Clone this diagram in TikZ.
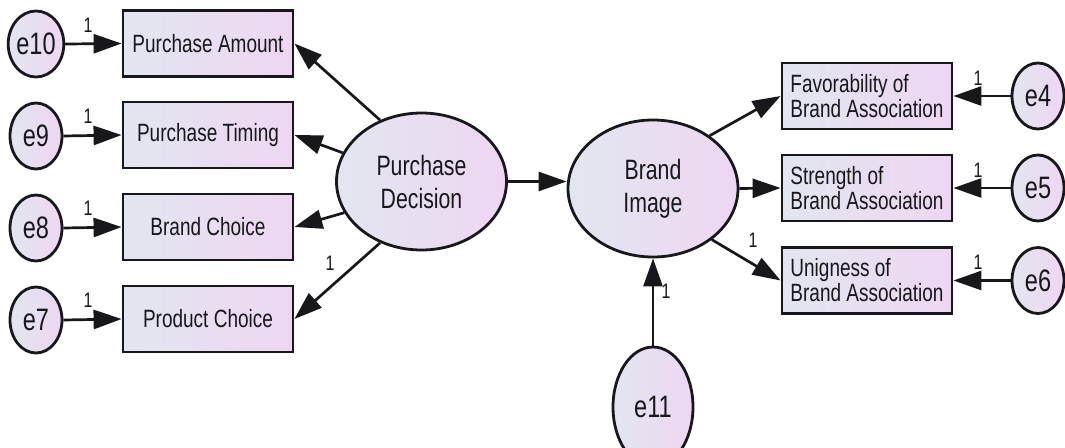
\documentclass[tikz,border=0pt]{standalone}
\usepackage{fontspec}
\setmainfont{Liberation Sans}[FakeStretch=0.76]
\usetikzlibrary{shapes.geometric,arrows.meta}
\definecolor{fillL}{RGB}{226,230,240}
\definecolor{fillR}{RGB}{238,214,242}
\definecolor{ink}{RGB}{24,24,28}
\tikzset{
  obsbox/.style={draw=ink, line width=2.8pt, left color=fillL, right color=fillR,
    minimum width=170pt, minimum height=66pt, inner sep=0pt,
    font=\fontsize{25}{25}\selectfont, text=ink},
  obsleft/.style={obsbox, align=left},
  latent/.style={draw=ink, line width=2.8pt, ellipse, left color=fillL, right color=fillR,
    minimum width=170pt, minimum height=137pt, inner sep=0pt, align=center,
    font=\fontsize{28}{33}\selectfont, text=ink},
  errvar/.style={draw=ink, line width=2.8pt, ellipse, left color=fillL, right color=fillR,
    minimum width=52pt, minimum height=66pt, inner sep=0pt,
    font=\fontsize{31}{32}\selectfont, text=ink},
  path/.style={draw=ink, line width=2.7pt, -{Triangle[length=28pt,width=19pt]}},
  weight/.style={font=\fontsize{21}{22}\selectfont, text=ink, inner sep=0pt}
}
\begin{document}
\begin{tikzpicture}[x=1pt, y=-1pt]
\useasboundingbox (0,0) rectangle (1065,447);
\clip (0,0) rectangle (1065,447);
\fill[white] (0,0) rectangle (1065,447);

% latent variables
\node[latent] (PD) at (421.5,181.5) {Purchase\\Decision};
\node[latent] (BI) at (653,188.5) {Brand\\Image};
\node[errvar, minimum width=80pt, minimum height=120pt] (e11) at (653,407) {e11};

% indicators of Purchase Decision
\node[obsbox] (PA) at (208,43.5) {Purchase Amount};
\node[obsbox] (PT) at (208,135) {Purchase Timing};
\node[obsbox] (BC) at (208,227) {Brand Choice};
\node[obsbox] (PC) at (208,319) {Product Choice};

% indicators of Brand Image
\node[obsleft] (FA) at (867,96) {Favorability of\\Brand Association};
\node[obsleft] (SA) at (867,188) {Strength of\\Brand Association};
\node[obsleft] (UA) at (867,280.5) {Unigness of\\Brand Association};

% error terms
\node[errvar] (e10) at (36,44) {e10};
\node[errvar] (e9) at (36,136) {e9};
\node[errvar] (e8) at (36,228) {e8};
\node[errvar] (e7) at (36,320) {e7};
\node[errvar] (e4) at (1038,96) {e4};
\node[errvar] (e5) at (1038,188) {e5};
\node[errvar] (e6) at (1038,280.5) {e6};

% structural path
\draw[path] (PD.east) -- (PD.east -| BI.west);

% loadings
\draw[path] (PD.124) -- (PA.east);
\draw[path] (PD.160) -- (PT.east);
\draw[path] (PD.202) -- (BC.east);
\draw[path] (PD.236) -- (PC.east);
\draw[path] (BI.43) -- (FA.west);
\draw[path] (BI.east) -- (SA.west);
\draw[path] (BI.-41) -- (UA.west);

% errors
\draw[path] (e10.east) -- (PA.west);
\draw[path] (e9.east) -- (PT.west);
\draw[path] (e8.east) -- (BC.west);
\draw[path] (e7.east) -- (PC.west);
\draw[path] (e4.west) -- (FA.east);
\draw[path] (e5.west) -- (SA.east);
\draw[path] (e6.west) -- (UA.east);
\draw[path] (e11.north) -- (BI.south);

% fixed weights
\node[weight] (w10) at (88,25) {1};
\node[weight] (w9) at (88,116) {1};
\node[weight] (w8) at (88,208) {1};
\node[weight] (w7) at (88,300) {1};
\node[weight] (w4) at (978,78) {1};
\node[weight] (w5) at (978,170) {1};
\node[weight] (w6) at (978,262) {1};
\node[weight] (wpc) at (330,263) {1};
\node[weight] (wua) at (753,240) {1};
\node[weight] (w11) at (666,291) {1};
\end{tikzpicture}
\end{document}
